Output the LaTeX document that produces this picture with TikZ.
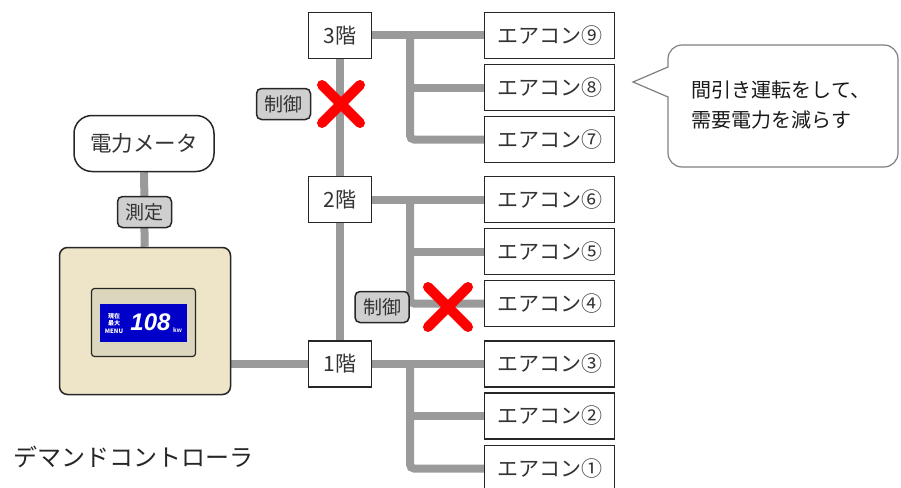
\documentclass[tikz,border=0pt]{standalone}
\usepackage{fontspec}
\setmainfont{Noto Sans CJK JP}
\newfontfamily\lcdfont{Liberation Sans}
\usetikzlibrary{backgrounds}
\definecolor{pipegray}{HTML}{9A9A9A}
\definecolor{tagfill}{HTML}{CFCFCF}
\definecolor{ctrlfill}{HTML}{EEE5C9}
\definecolor{framefill}{HTML}{DCD6BC}
\definecolor{lcdblue}{HTML}{0000C8}
\definecolor{inkgray}{HTML}{333333}

\begin{document}
\begin{tikzpicture}[x=1pt, y=-1pt,
  plainbox/.style={draw=black!85, line width=1.5pt, fill=white, text=inkgray, inner sep=0pt, font=\fontsize{21}{24}\selectfont},
  acbox/.style={plainbox, minimum width=130pt, minimum height=46pt},
  floorbox/.style={plainbox, minimum width=63pt, minimum height=46pt},
  tagbox/.style={draw=black!85, line width=1.5pt, fill=tagfill, rounded corners=5pt, text=inkgray, inner sep=0pt, minimum width=54pt, minimum height=31pt, font=\fontsize{19}{20}\selectfont},
  pipeline/.style={draw=pipegray, line width=8pt},
  redcross/.style={draw=red, line width=10pt, line cap=round}]
\useasboundingbox (0,0) rectangle (901,487);

\node[floorbox] (f3) at (340,35.5) {3階};
\node[floorbox] (f2) at (340,199.5) {2階};
\node[floorbox] (f1) at (340,364) {1階};
\foreach \n/\c/\y in {9/⑨/35.5, 8/⑧/87.5, 7/⑦/139.5, 6/⑥/199.5, 5/⑤/251.5, 4/④/303.5, 3/③/364, 2/②/416, 1/①/468.5}
  \node[acbox] (ac\n) at (549.5,\y) {エアコン\c};

\node[draw=black!85, line width=1.5pt, fill=white, rounded corners=18pt, minimum width=140pt, minimum height=56pt, text=inkgray, font=\fontsize{21.5}{24}\selectfont] (meter) at (144,143.5) {電力メータ};
\node[tagbox] (meas) at (144.5,212) {測定};
\node[draw=black!85, line width=1.5pt, fill=ctrlfill, rounded corners=8pt, minimum width=171pt, minimum height=147pt] (ctrl) at (145,321) {};
\node[draw=black!85, line width=1.2pt, fill=framefill, rounded corners=3pt, minimum width=104pt, minimum height=68pt] (frame) at (143.5,322.5) {};
\node[fill=lcdblue, minimum width=87pt, minimum height=38pt, inner sep=0pt] (lcd) at (143.5,323) {};
\node[text=white, align=center, inner sep=0pt, font=\fontsize{6}{7.5}\selectfont\bfseries] (lcdmenu) at (114,323) {現在\\最大\\MENU};
\node[text=white, inner sep=0pt, font=\lcdfont\fontsize{24}{24}\selectfont\bfseries\itshape] (lcdval) at (150.5,322) {108};
\node[text=white, inner sep=0pt, font=\lcdfont\fontsize{6.5}{7}\selectfont\bfseries] (lcdunit) at (177.5,330) {kw};
\node[anchor=west, text=black!85, inner sep=0pt, font=\fontsize{24}{26}\selectfont] (ctrllabel) at (13,457) {デマンドコントローラ};

\begin{scope}[on background layer]
\draw[pipeline] (meter) -- (ctrl);
\draw[pipeline] (ctrl.east |- f1.west) -- (f1.west);
\draw[pipeline] (f3) -- (f2);
\draw[pipeline] (f2) -- (f1);
\coordinate (bx) at (410,0);
\foreach \f/\a/\b in {f3/ac9/ac7, f2/ac6/ac4, f1/ac3/ac1} {
  \draw[pipeline] (\f.east) -- (\a.west);
  \draw[pipeline, rounded corners=4pt] (bx |- \f.east) |- (\b.west);
}
\foreach \m in {8,5,2}
  \draw[pipeline] (bx |- ac\m.west) -- (ac\m.west);
\end{scope}

\node[tagbox] (ctl3) at (283.5,104) {制御};
\node[tagbox] (ctl4) at (382,307) {制御};
\draw[redcross] (341,104) +(-19,-19) -- +(19,19) +(-19,19) -- +(19,-19);
\draw[redcross] (448,307) +(-20,-20) -- +(20,20) +(-20,20) -- +(20,-20);

\node[text=black!90, align=left, inner sep=0pt, font=\fontsize{20}{30}\selectfont] (note) at (781,105) {間引き運転をして、\\需要電力を減らす};
\draw[draw=black!50, line width=1.2pt] (633,82) -- (668,67) [rounded corners=14pt] -- (668,45) -- (898,45) -- (898,167) -- (668,167) [sharp corners] -- (668,97) -- cycle;
\end{tikzpicture}
\end{document}
